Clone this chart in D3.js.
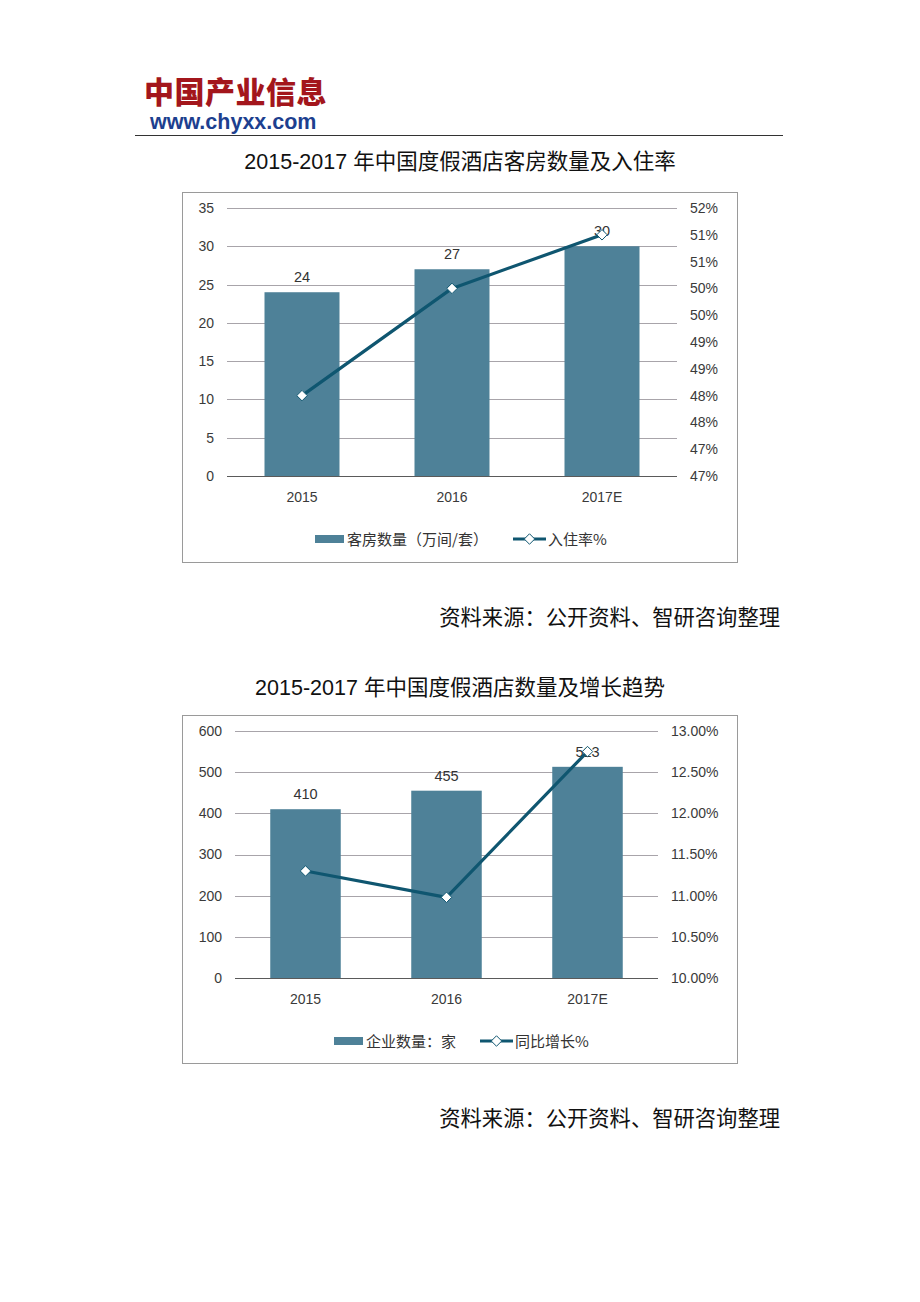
<!DOCTYPE html>
<html><head><meta charset="utf-8">
<script src="https://cdn.jsdelivr.net/npm/d3@7/dist/d3.min.js"></script>
<style>
body{margin:0;background:#fff;}
svg{display:block;}
</style></head>
<body>
<script>
// ---- Data ----
const years = ["2015", "2016", "2017E"];
const roomCounts = [24, 27, 30];              // 客房数量（万间/套）
const occupancyRates = [48.3, 50.3, 51.3];    // 入住率%
const roomTicks = [0, 5, 10, 15, 20, 25, 30, 35];
const rateTickLabels = ["47%","47%","48%","48%","49%","49%","50%","50%","51%","51%","52%"];
const hotelCounts = [410, 455, 513];          // 企业数量：家
const growthRates = [11.3, 10.98, 12.75];     // 同比增长%
const hotelTicks = [0, 100, 200, 300, 400, 500, 600];
const growthTickLabels = ["10.00%","10.50%","11.00%","11.50%","12.00%","12.50%","13.00%"];

const title1 = "2015-2017 年中国度假酒店客房数量及入住率";
const title2 = "2015-2017 年中国度假酒店数量及增长趋势";
const sourceText = "资料来源：公开资料、智研咨询整理";

const W = 920, H = 1302;
const svg = d3.select("body").append("svg").attr("width", W).attr("height", H);
const FONT = "'Liberation Sans', Arial, 'Noto Sans CJK SC', sans-serif";
const CJK = "'Noto Sans CJK SC', 'Liberation Sans', sans-serif";
const BAR = "#4e8198", LINE = "#0f5670";

// Header
svg.append("text").attr("x", 144).attr("y", 103)
  .attr("font-family", CJK).attr("font-weight", 900).attr("font-size", 30)
  .attr("fill", "#a3161c").attr("letter-spacing", 0.5).text("中国产业信息");
svg.append("text").attr("x", 150).attr("y", 129)
  .attr("font-family", "'Liberation Sans', Arial, sans-serif").attr("font-weight", "bold").attr("font-size", 21.5)
  .attr("fill", "#1d3f8f").text("www.chyxx.com");
svg.append("line").attr("x1", 135).attr("x2", 783).attr("y1", 135.5).attr("y2", 135.5)
  .attr("stroke", "#333").attr("stroke-width", 1.2);

function drawChart(cfg) {
  const g = svg.append("g");
  // title
  g.append("text").attr("x", 460).attr("y", cfg.titleY).attr("text-anchor", "middle")
    .attr("font-family", FONT).attr("font-size", 21.5).attr("fill", "#111").text(cfg.title);
  // box
  g.append("rect").attr("x", cfg.box[0] + 0.5).attr("y", cfg.box[1] + 0.5)
    .attr("width", cfg.box[2]).attr("height", cfg.box[3])
    .attr("fill", "none").attr("stroke", "#9a9a9a").attr("stroke-width", 1);

  const x = d3.scaleBand().domain(cfg.cats).range([cfg.left, cfg.right]).paddingInner(0.5).paddingOuter(0.25);
  const y = d3.scaleLinear().domain(cfg.yDomain).range([cfg.bottom, cfg.top]);
  const y2 = d3.scaleLinear().domain(cfg.y2Domain).range([cfg.bottom, cfg.top]);

  // gridlines
  g.append("g").selectAll("line").data(cfg.yTicks.filter(d => d !== 0)).join("line")
    .attr("x1", cfg.left).attr("x2", cfg.right)
    .attr("y1", d => Math.round(y(d)) + 0.5).attr("y2", d => Math.round(y(d)) + 0.5)
    .attr("stroke", "#a8a4aa").attr("stroke-width", 1);

  // left axis
  const la = g.append("g").attr("transform", `translate(${cfg.left},0)`)
    .call(d3.axisLeft(y).tickValues(cfg.yTicks).tickSize(0).tickPadding(cfg.leftPad));
  la.select(".domain").remove();
  la.selectAll("text").attr("font-family", FONT).attr("font-size", 14).attr("fill", "#3a3a3a");

  // right axis
  const ra = g.append("g").attr("transform", `translate(${cfg.right},0)`)
    .call(d3.axisRight(y2).tickValues(cfg.y2Ticks).tickSize(0).tickPadding(cfg.rightPad)
      .tickFormat((d, i) => cfg.y2Labels[i]));
  ra.select(".domain").remove();
  ra.selectAll("text").attr("font-family", FONT).attr("font-size", 14).attr("fill", "#3a3a3a");

  // bars
  g.append("g").selectAll("rect").data(cfg.bars).join("rect")
    .attr("x", (d, i) => x(cfg.cats[i])).attr("width", x.bandwidth())
    .attr("y", d => y(d)).attr("height", d => y(0) - y(d))
    .attr("fill", BAR);

  // baseline
  g.append("line").attr("x1", cfg.left).attr("x2", cfg.right)
    .attr("y1", Math.round(y(0)) + 0.5).attr("y2", Math.round(y(0)) + 0.5)
    .attr("stroke", "#5a5a5a").attr("stroke-width", 1.2);

  // bar labels
  g.append("g").selectAll("text").data(cfg.bars).join("text")
    .attr("x", (d, i) => x(cfg.cats[i]) + x.bandwidth() / 2)
    .attr("y", d => y(d) - 10).attr("text-anchor", "middle")
    .attr("font-family", FONT).attr("font-size", 14.5).attr("fill", "#333").text(d => d);

  // x labels
  g.append("g").selectAll("text").data(cfg.cats).join("text")
    .attr("x", d => x(d) + x.bandwidth() / 2).attr("y", cfg.bottom + 26)
    .attr("text-anchor", "middle").attr("font-family", FONT).attr("font-size", 14).attr("fill", "#3a3a3a").text(d => d);

  // line
  const pts = cfg.line.map((v, i) => [x(cfg.cats[i]) + x.bandwidth() / 2, y2(v)]);
  g.append("path").attr("d", d3.line()(pts)).attr("fill", "none")
    .attr("stroke", LINE).attr("stroke-width", 3.2).attr("stroke-linejoin", "round");
  const diamond = d3.symbol().type(d3.symbolDiamond2).size(70);
  g.append("g").selectAll("path").data(pts).join("path")
    .attr("transform", d => `translate(${d[0]},${d[1]})`)
    .attr("d", diamond).attr("fill", "#fff").attr("stroke", LINE).attr("stroke-width", 1);

  // legend
  const ly = cfg.legendY;
  const lg = g.append("g");
  lg.append("rect").attr("x", cfg.legX[0]).attr("y", ly - 4).attr("width", 29).attr("height", 8).attr("fill", BAR);
  lg.append("text").attr("x", cfg.legX[0] + 32).attr("y", ly + 5.5).attr("font-family", CJK)
    .attr("font-size", 15).attr("fill", "#333").text(cfg.barName);
  lg.append("line").attr("x1", cfg.legX[1]).attr("x2", cfg.legX[1] + 33).attr("y1", ly).attr("y2", ly)
    .attr("stroke", LINE).attr("stroke-width", 3);
  lg.append("path").attr("transform", `translate(${cfg.legX[1] + 16.5},${ly})`)
    .attr("d", diamond).attr("fill", "#fff").attr("stroke", LINE).attr("stroke-width", 1);
  lg.append("text").attr("x", cfg.legX[1] + 35).attr("y", ly + 5.5).attr("font-family", CJK)
    .attr("font-size", 15).attr("fill", "#333").text(cfg.lineName);

  // source
  svg.append("text").attr("x", 780).attr("y", cfg.sourceY).attr("text-anchor", "end")
    .attr("font-family", CJK).attr("font-size", 21.3).attr("fill", "#111").text(sourceText);
}

drawChart({
  title: title1, titleY: 169,
  box: [182, 192, 555, 370],
  cats: years, left: 227, right: 677, top: 208, bottom: 476,
  yDomain: [0, 35], yTicks: roomTicks, leftPad: 13,
  y2Domain: [46.8, 51.8], y2Ticks: rateTickLabels.map((_, i) => 46.8 + 0.5 * i), y2Labels: rateTickLabels, rightPad: 13,
  bars: roomCounts, line: occupancyRates,
  legendY: 539, legX: [315, 513],
  barName: "客房数量（万间/套）", lineName: "入住率%",
  sourceY: 625
});

drawChart({
  title: title2, titleY: 695,
  box: [182, 715, 555, 348],
  cats: years, left: 235, right: 658, top: 731, bottom: 978,
  yDomain: [0, 600], yTicks: hotelTicks, leftPad: 13,
  y2Domain: [10, 13], y2Ticks: growthTickLabels.map((_, i) => 10 + 0.5 * i), y2Labels: growthTickLabels, rightPad: 13,
  bars: hotelCounts, line: growthRates,
  legendY: 1041, legX: [334, 480],
  barName: "企业数量：家", lineName: "同比增长%",
  sourceY: 1126
});
</script>
</body></html>
